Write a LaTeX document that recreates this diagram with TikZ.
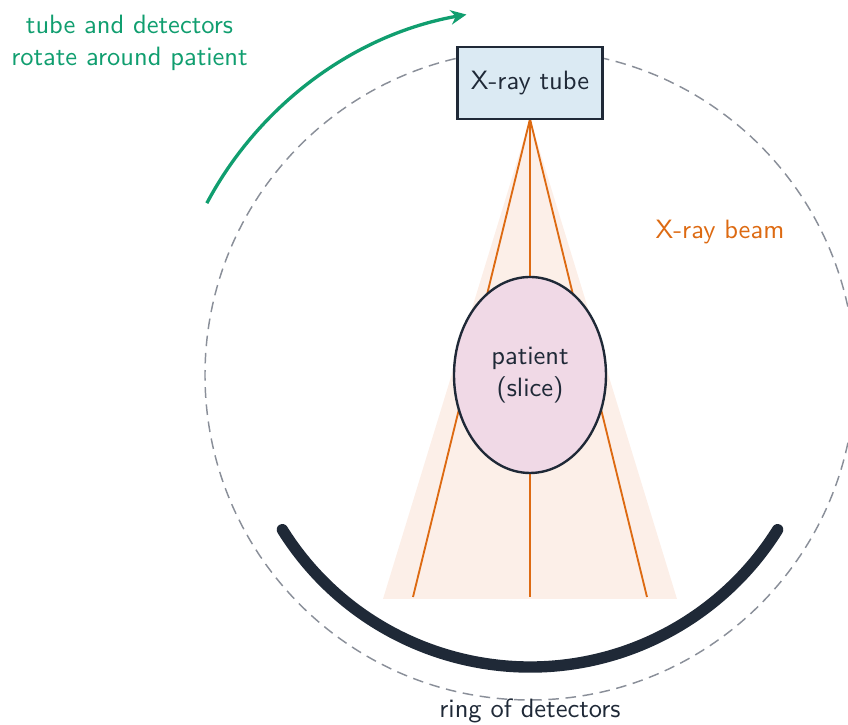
\documentclass[tikz,border=0pt]{standalone}
\usetikzlibrary{shapes.geometric,arrows.meta}
\definecolor{ink}{HTML}{1F2937}
\definecolor{tubefill}{HTML}{DBEAF3}
\definecolor{patfill}{HTML}{F0D9E6}
\definecolor{beamfill}{HTML}{FCEFE8}
\definecolor{beamline}{HTML}{DD6A12}
\definecolor{rotgreen}{HTML}{109E6F}
\definecolor{ringgray}{HTML}{8A8F99}
\begin{document}
\begin{tikzpicture}[x=0.3774pt,y=0.3774pt,
  every node/.style={font=\sffamily},
  gantry/.style={draw=ringgray,line width=0.55pt,dash pattern=on 4pt off 2.5pt},
  tubebox/.style={draw=ink,fill=tubefill,line width=1pt,minimum width=145*0.3774pt,minimum height=72*0.3774pt,inner sep=0pt,text=ink},
  body/.style={ellipse,draw=ink,fill=patfill,line width=0.9pt,minimum width=152*0.3774pt,minimum height=196*0.3774pt,inner sep=0pt,align=center,text=ink},
  ray/.style={draw=beamline,line width=0.7pt},
  detector/.style={draw=ink,line width=4.3pt,line cap=round},
  rotarrow/.style={draw=rotgreen,line width=1.25pt,-{Stealth[length=6pt,width=5.5pt]}},
  lbl/.style={align=center}]
\useasboundingbox (0,0) rectangle (848,725);
\clip (0,0) rectangle (848,725);
% gantry circle
\coordinate (c) at (530,350);
\draw[gantry] (c) circle[radius=325];
% beam
\coordinate (apex) at (530,606);
\coordinate (fl) at (383,126);
\coordinate (fr) at (677,126);
\fill[beamfill] (apex) -- (fl) -- (fr) -- cycle;
\coordinate (rl) at (413,128);
\coordinate (rm) at (530,128);
\coordinate (rr) at (647,128);
\draw[ray] (apex) -- (rl);
\draw[ray] (apex) -- (rm);
\draw[ray] (apex) -- (rr);
% tube
\node[tubebox] (tube) at (530,642) {X-ray tube};
% patient
\node[body] (patient) at (530,350) {patient\\(slice)};
% detectors
\draw[detector] (c) ++(212:292) arc[start angle=212,end angle=328,radius=292];
% rotation arrow
\draw[rotarrow] (c) ++(152:366) arc[start angle=152,end angle=100,radius=366];
% labels
\node[lbl,text=rotgreen] (rotlabel) at (129.5,682) {tube and detectors\\rotate around patient};
\node[text=beamline] (beamlabel) at (720,493) {X-ray beam};
\node[text=ink] (ringlabel) at (530,14) {ring of detectors};
\end{tikzpicture}
\end{document}
